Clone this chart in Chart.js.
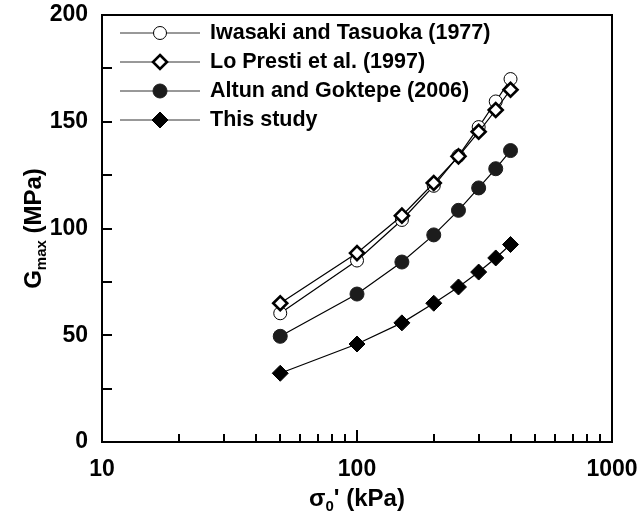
<!DOCTYPE html>
<html>
<head>
<meta charset="utf-8">
<script src="https://cdn.jsdelivr.net/npm/chart.js@4/dist/chart.umd.min.js"></script>
<style>
  html, body { margin: 0; padding: 0; background: #fff; }
  #wrap { width: 639px; height: 519px; }
</style>
</head>
<body>
<div id="wrap"><canvas id="gmaxChart" width="639" height="519"></canvas></div>
<script>
// effective confining stress (kPa)
const stress = [50, 100, 150, 200, 250, 300, 350, 400];

// Gmax (MPa) for each source
const iwasaki   = [60.3, 85.0, 104.0, 120.0, 134.0, 147.5, 159.5, 170.0];
const loPresti  = [65.0, 88.5, 106.0, 121.3, 133.8, 145.3, 155.5, 165.0];
const altun     = [49.5, 69.3, 84.3, 97.0, 108.5, 119.0, 128.0, 136.5];
const thisStudy = [32.2, 45.9, 55.8, 65.0, 72.6, 79.6, 86.2, 92.5];

const seriesNames = [
  "Iwasaki and Tasuoka (1977)",
  "Lo Presti et al. (1997)",
  "Altun and Goktepe (2006)",
  "This study"
];

// axis ticks
const xLabelTicks = [10, 100, 1000];
const xMinorTicks = [20, 30, 40, 50, 60, 70, 80, 90, 200, 300, 400, 500, 600, 700, 800, 900];
const yMajorTicks = [0, 50, 100, 150, 200];
const yMinorTicks = [25, 75, 125, 175];

const FONT = "'Liberation Sans', Arial, sans-serif";

// marker looks, shared by datasets and the legend
const markers = [
  { style: "circle",  radius: 6.5, fill: "#ffffff", stroke: "#000000", width: 1 },
  { style: "rectRot", radius: 7,   fill: "#ffffff", stroke: "#000000", width: 2.6 },
  { style: "circle",  radius: 7,   fill: "#1c1c1c", stroke: "#1c1c1c", width: 1 },
  { style: "rectRot", radius: 8,   fill: "#000000", stroke: "#000000", width: 1 }
];

function makeDataset(i, values) {
  const m = markers[i];
  return {
    label: seriesNames[i],
    data: stress.map((x, k) => ({ x, y: values[k] })),
    borderColor: "#000",
    borderWidth: 1.2,
    tension: 0,
    fill: false,
    pointStyle: m.style,
    pointRadius: m.radius,
    pointHoverRadius: m.radius,
    pointBackgroundColor: m.fill,
    pointBorderColor: m.stroke,
    pointBorderWidth: m.width,
    order: i === 0 ? 2 : (i === 1 ? 1 : 0)
  };
}

// small helper for "base + subscript + rest" text runs
function drawSubText(ctx, parts, x, y) {
  const big = "bold 24px " + FONT;
  const small = "bold 15px " + FONT;
  let total = 0;
  parts.forEach(p => { ctx.font = p.sub ? small : big; total += ctx.measureText(p.text).width; });
  let cx = x - total / 2;
  ctx.textAlign = "left";
  ctx.textBaseline = "alphabetic";
  parts.forEach(p => {
    ctx.font = p.sub ? small : big;
    ctx.fillText(p.text, cx, p.sub ? y + 5 : y);
    cx += ctx.measureText(p.text).width;
  });
}

function drawMarker(ctx, m, x, y) {
  ctx.save();
  ctx.beginPath();
  if (m.style === "circle") {
    ctx.arc(x, y, m.radius, 0, Math.PI * 2);
  } else {
    ctx.moveTo(x, y - m.radius);
    ctx.lineTo(x + m.radius, y);
    ctx.lineTo(x, y + m.radius);
    ctx.lineTo(x - m.radius, y);
    ctx.closePath();
  }
  ctx.fillStyle = m.fill;
  ctx.fill();
  ctx.lineWidth = m.width;
  ctx.strokeStyle = m.stroke;
  ctx.stroke();
  ctx.restore();
}

// frame, inward ticks, axis titles and the legend
const framePlugin = {
  id: "frame",
  afterDatasetsDraw(chart) {
    const { ctx, chartArea: a, scales: { x, y } } = chart;
    ctx.save();
    ctx.strokeStyle = "#000";
    ctx.lineWidth = 2;
    ctx.strokeRect(a.left, a.top, a.right - a.left, a.bottom - a.top);

    ctx.beginPath();
    yMajorTicks.concat(yMinorTicks).forEach(v => {
      const py = Math.round(y.getPixelForValue(v));
      if (py <= a.top + 1 || py >= a.bottom - 1) return;
      ctx.moveTo(a.left, py);
      ctx.lineTo(a.left + 10, py);
    });
    xLabelTicks.forEach(v => {
      const px = Math.round(x.getPixelForValue(v));
      if (px <= a.left + 1 || px >= a.right - 1) return;
      ctx.moveTo(px, a.bottom);
      ctx.lineTo(px, a.bottom - 12);
    });
    xMinorTicks.forEach(v => {
      const px = Math.round(x.getPixelForValue(v));
      ctx.moveTo(px, a.bottom);
      ctx.lineTo(px, a.bottom - 8);
    });
    ctx.stroke();

    // axis titles
    ctx.fillStyle = "#000";
    drawSubText(ctx, [{ text: "\u03c3" }, { text: "0", sub: true }, { text: "' (kPa)" }],
      (a.left + a.right) / 2, 506);
    ctx.save();
    ctx.translate(41, (a.top + a.bottom) / 2);
    ctx.rotate(-Math.PI / 2);
    drawSubText(ctx, [{ text: "G" }, { text: "max", sub: true }, { text: " (MPa)" }], 0, 0);
    ctx.restore();

    // legend
    const rowY = [33, 62, 91, 120];
    seriesNames.forEach((name, i) => {
      const ry = rowY[i];
      ctx.beginPath();
      ctx.lineWidth = 1;
      ctx.strokeStyle = "#333";
      ctx.moveTo(120, ry);
      ctx.lineTo(200, ry);
      ctx.stroke();
      drawMarker(ctx, markers[i], 160, ry);
      ctx.font = "bold 21.5px " + FONT;
      ctx.textAlign = "left";
      ctx.textBaseline = "middle";
      ctx.fillStyle = "#000";
      ctx.fillText(name, 210, ry);
    });
    ctx.restore();
  }
};

new Chart(document.getElementById("gmaxChart"), {
  type: "line",
  data: {
    datasets: [
      makeDataset(0, iwasaki),
      makeDataset(1, loPresti),
      makeDataset(2, altun),
      makeDataset(3, thisStudy)
    ]
  },
  options: {
    responsive: false,
    animation: false,
    layout: { padding: { top: 15, right: 27, left: 0, bottom: 0 } },
    plugins: { legend: { display: false }, tooltip: { enabled: false } },
    scales: {
      x: {
        type: "logarithmic",
        min: 10,
        max: 1000,
        grid: { display: false },
        border: { display: false },
        afterFit(scale) {
          scale.height = 77;
          scale.paddingLeft = 0;
          scale.paddingRight = 0;
        },
        ticks: {
          autoSkip: false,
          maxRotation: 0,
          padding: 6,
          color: "#000",
          font: { family: FONT, size: 23, weight: "bold" },
          callback: v => (xLabelTicks.includes(v) ? String(v) : "")
        }
      },
      y: {
        min: 0,
        max: 200,
        grid: { display: false },
        border: { display: false },
        afterFit(scale) {
          scale.width = 102;
          scale.paddingTop = 0;
          scale.paddingBottom = 0;
        },
        ticks: {
          stepSize: 50,
          padding: 6,
          color: "#000",
          font: { family: FONT, size: 23, weight: "bold" }
        }
      }
    }
  },
  plugins: [framePlugin]
});
</script>
</body>
</html>
